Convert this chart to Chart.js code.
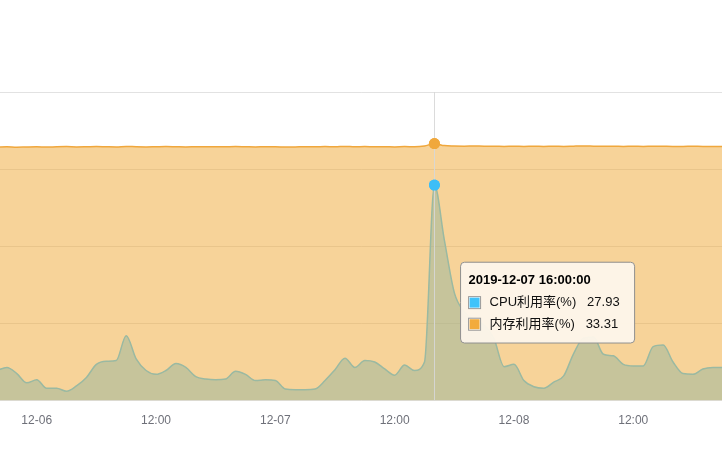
<!DOCTYPE html>
<html>
<head>
<meta charset="utf-8">
<title>CPU / 内存利用率</title>
<script src="https://cdn.jsdelivr.net/npm/chart.js@4.4.1/dist/chart.umd.min.js"></script>
<style>
  html, body { margin: 0; padding: 0; background: #fff; overflow: hidden; }
  #wrap { width: 722px; height: 453px; position: relative; overflow: hidden; }
  #usageChart { position: absolute; left: -4px; top: 0; }
</style>
</head>
<body>
<div id="wrap"><canvas id="usageChart" width="730" height="453"></canvas></div>
<script>
// hourly samples, first one at 2019-12-05 20:00
const firstSample = new Date(2019, 11, 5, 20, 0, 0);
const firstHour = -4;   // hours relative to 12-06 00:00

const cpuUsage = [
  3.9, 4.3, 3.5, 2.3,
  2.7, 1.6, 1.6, 1.2, 1.9, 3.0, 4.7, 5.1, 5.2, 8.4, 5.4, 3.9,
  3.4, 3.9, 4.8, 4.3, 3.1, 2.8, 2.7, 2.8, 3.8, 3.4, 2.6, 2.7,
  2.6, 1.5, 1.4, 1.4, 1.5, 2.6, 4.0, 5.5, 4.3, 5.2, 5.0, 4.1,
  3.3, 4.6, 3.9, 5.0, 27.93, 20.8, 14.0, 11.5, 10.5, 9.8, 8.0, 4.4,
  4.7, 2.6, 1.8, 1.6, 2.4, 3.2, 6.1, 8.1, 8.2, 6.0, 5.8, 4.7,
  4.5, 4.5, 7.0, 7.2, 5.0, 3.5, 3.4, 4.1, 4.3, 4.3, 4.4
];
const memUsage = [
  32.85, 32.9, 32.85, 32.88,
  32.9, 32.86, 32.9, 32.92, 32.88, 32.9, 32.93, 32.9, 32.88, 32.95, 32.9, 32.88,
  32.9, 32.92, 32.9, 32.88, 32.9, 32.91, 32.89, 32.9, 32.92, 32.9, 32.88, 32.9,
  32.9, 32.87, 32.88, 32.9, 32.9, 32.92, 32.9, 32.95, 32.9, 32.93, 32.9, 32.9,
  32.88, 32.92, 32.9, 33.0, 33.31, 33.05, 33.0, 32.98, 33.0, 32.97, 32.98, 32.95,
  32.97, 32.95, 32.96, 32.95, 32.97, 32.95, 32.98, 33.0, 32.98, 32.96, 32.97, 32.95,
  32.96, 32.95, 32.97, 32.96, 32.95, 32.95, 32.96, 32.95, 32.95, 32.95, 32.95
];
const tickHours = [0, 12, 24, 36, 48, 60];
const tickLabels = ['12-06', '12:00', '12-07', '12:00', '12-08', '12:00'];
const activeIndex = 44; // 2019-12-07 16:00:00

function pad(n) { return String(n).padStart(2, '0'); }
function sampleTime(i) {
  const d = new Date(firstSample.getTime() + i * 3600000);
  return d.getFullYear() + '-' + pad(d.getMonth() + 1) + '-' + pad(d.getDate()) + ' ' +
    pad(d.getHours()) + ':' + pad(d.getMinutes()) + ':' + pad(d.getSeconds());
}

const cpuPoints = cpuUsage.map((v, i) => ({ x: firstHour + i, y: v }));
const memPoints = memUsage.map((v, i) => ({ x: firstHour + i, y: v }));

Chart.defaults.font.family = '"Liberation Sans", "Noto Sans CJK SC", sans-serif';

Chart.Tooltip.positioners.sidePanel = function (items) {
  if (!items.length) return false;
  return { x: items[0].element.x + 26, y: this.chart.scales.y.getPixelForValue(12.7) };
};

// vertical pointer through the hovered hour, then the hover dots on top of it
const pointerLine = {
  id: 'pointerLine',
  afterDatasetsDraw(chart) {
    const ctx = chart.ctx;
    const area = chart.chartArea;
    const x = chart.scales.x.getPixelForValue(firstHour + activeIndex);
    ctx.save();
    ctx.strokeStyle = 'rgba(215,215,215,0.9)';
    ctx.lineWidth = 1;
    ctx.beginPath();
    ctx.moveTo(Math.round(x) + 0.5, area.top);
    ctx.lineTo(Math.round(x) + 0.5, area.bottom);
    ctx.stroke();
    ctx.restore();
    [1, 0].forEach(i => chart.getDatasetMeta(i).data[activeIndex].draw(ctx, area));
  }
};

const ctx = document.getElementById('usageChart').getContext('2d');
const usageChart = new Chart(ctx, {
  type: 'line',
  data: {
    datasets: [{
      label: 'CPU利用率(%)',
      data: cpuPoints,
      borderColor: '#9ab9a2',
      borderWidth: 1.5,
      backgroundColor: 'rgba(149,182,158,0.5)',
      fill: 'origin',
      cubicInterpolationMode: 'monotone',
      pointRadius: 0,
      pointHoverRadius: 5.5,
      pointHoverBackgroundColor: '#3dbef7',
      pointHoverBorderWidth: 0
    }, {
      label: '内存利用率(%)',
      data: memPoints,
      borderColor: '#f0a73c',
      borderWidth: 1.5,
      backgroundColor: 'rgba(240,170,60,0.52)',
      fill: 'origin',
      cubicInterpolationMode: 'monotone',
      pointRadius: 0,
      pointHoverRadius: 5.5,
      pointHoverBackgroundColor: '#f0a83c',
      pointHoverBorderWidth: 0
    }]
  },
  options: {
    responsive: false,
    animation: false,
    events: [],
    layout: { padding: { top: 92, bottom: 20, left: 0, right: 0 } },
    scales: {
      x: {
        type: 'linear',
        min: -4.02,
        max: 69.25,
        afterBuildTicks: scale => { scale.ticks = tickHours.map(v => ({ value: v })); },
        ticks: {
          autoSkip: false,
          maxRotation: 0,
          padding: 5,
          color: '#6e7079',
          font: { size: 12 },
          callback: (value) => tickLabels[tickHours.indexOf(value)]
        },
        grid: { display: false },
        border: { display: false }
      },
      y: {
        min: 0,
        max: 40,
        ticks: { display: false, stepSize: 10 },
        grid: { color: '#e2e2e2', drawTicks: false },
        border: { display: false },
        afterFit: scale => { scale.width = 0; }
      }
    },
    plugins: {
      legend: { display: false },
      tooltip: {
        position: 'sidePanel',
        xAlign: 'left',
        yAlign: 'center',
        caretSize: 0,
        caretPadding: 0,
        backgroundColor: 'rgba(253,246,234,0.96)',
        borderColor: '#8f8f8f',
        borderWidth: 1,
        cornerRadius: 4,
        padding: { top: 10, left: 8, right: 15, bottom: 11 },
        titleColor: '#000',
        titleFont: { size: 13, weight: 'bold' },
        titleMarginBottom: 7,
        bodyColor: '#111',
        bodyFont: { size: 13 },
        bodySpacing: 6,
        boxWidth: 12,
        boxHeight: 12,
        boxPadding: 7,
        callbacks: {
          title: items => sampleTime(items[0].dataIndex),
          label: item => item.dataset.label + '   ' + item.parsed.y.toFixed(2),
          labelColor: item => ({
            borderColor: '#999',
            backgroundColor: item.datasetIndex === 0 ? '#40c3fa' : '#f2ab3c',
            borderWidth: 1
          })
        }
      }
    }
  },
  plugins: [pointerLine]
});

const active = [
  { datasetIndex: 0, index: activeIndex },
  { datasetIndex: 1, index: activeIndex }
];
usageChart.setActiveElements(active);
usageChart.tooltip.setActiveElements(active, { x: 0, y: 0 });
usageChart.update();
</script>
</body>
</html>
